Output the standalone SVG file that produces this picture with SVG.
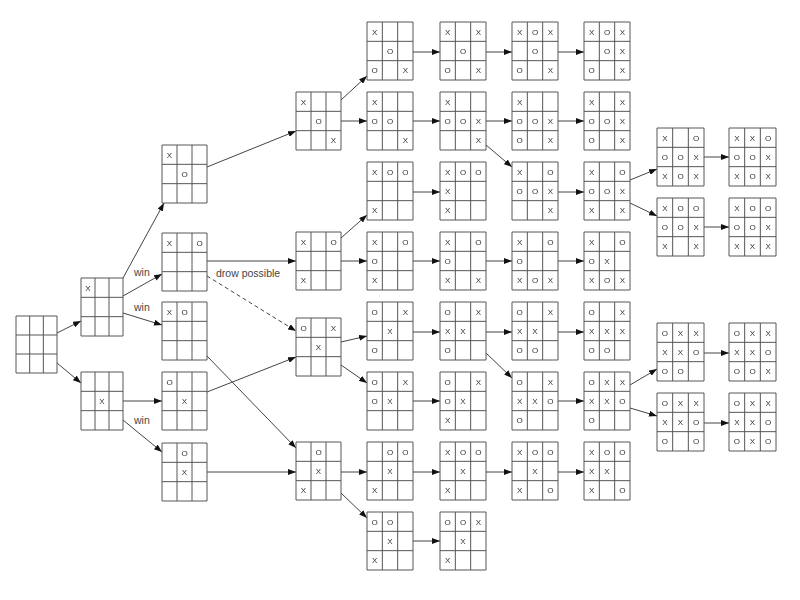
<svg xmlns="http://www.w3.org/2000/svg" xmlns:xlink="http://www.w3.org/1999/xlink" width="800" height="600" viewBox="0 0 800 600">
<style>
.g{fill:#fff;stroke:#555;stroke-width:1}
.b text{font-family:"Liberation Sans",Arial,sans-serif;font-size:8px;text-anchor:middle;fill:#333}
.c line{stroke:#444;stroke-width:1;marker-end:url(#a)}
.c .d{stroke-dasharray:4 3}
.lbl{font-family:"Liberation Sans",Arial,sans-serif;font-size:10.5px;fill:#444}
.b,#labels{opacity:0.99}
</style>
<defs>
<marker id="a" markerWidth="8" markerHeight="6" refX="8" refY="3" orient="auto" markerUnits="userSpaceOnUse"><path d="M0,0 L8,3 L0,6 z" fill="#111"/></marker>
<path id="g41" class="g" d="M0 0H41V57H0Z M13.67 0V57 M27.33 0V57 M0 19H41 M0 38H41"/>
<path id="g42" class="g" d="M0 0H42V58H0Z M14 0V58 M28 0V58 M0 19.33H42 M0 38.67H42"/>
<path id="g45" class="g" d="M0 0H45V58H0Z M15 0V58 M30 0V58 M0 19.33H45 M0 38.67H45"/>
<path id="g46" class="g" d="M0 0H46V58H0Z M15.33 0V58 M30.67 0V58 M0 19.33H46 M0 38.67H46"/>
<path id="g47" class="g" d="M0 0H47V58H0Z M15.67 0V58 M31.33 0V58 M0 19.33H47 M0 38.67H47"/>
</defs>
<rect width="800" height="600" fill="#fff"/>
<g class="c" id="connectors">
<line x1="57" y1="333" x2="81" y2="321"/>
<line x1="57" y1="363" x2="81" y2="383"/>
<line x1="123" y1="278" x2="164" y2="203"/>
<line x1="123" y1="296" x2="162" y2="274"/>
<line x1="123" y1="313" x2="162" y2="325"/>
<line x1="123" y1="401" x2="162" y2="401"/>
<line x1="123" y1="420" x2="162" y2="452"/>
<line x1="207" y1="167" x2="296" y2="131"/>
<line x1="207" y1="261" x2="296" y2="261"/>
<line class="d" x1="207" y1="276" x2="296" y2="331"/>
<line x1="207" y1="356" x2="296" y2="448"/>
<line x1="207" y1="392" x2="296" y2="357"/>
<line x1="207" y1="472" x2="296" y2="472"/>
<line x1="341" y1="100" x2="367" y2="76"/>
<line x1="341" y1="121" x2="367" y2="121"/>
<line x1="341" y1="238" x2="367" y2="215"/>
<line x1="341" y1="261" x2="367" y2="261"/>
<line x1="341" y1="342" x2="367" y2="336"/>
<line x1="341" y1="365" x2="367" y2="383"/>
<line x1="341" y1="472" x2="367" y2="472"/>
<line x1="341" y1="493" x2="367" y2="518"/>
<line x1="413" y1="52" x2="440" y2="52"/>
<line x1="413" y1="121" x2="440" y2="121"/>
<line x1="413" y1="192" x2="440" y2="192"/>
<line x1="413" y1="261" x2="440" y2="261"/>
<line x1="413" y1="332" x2="440" y2="332"/>
<line x1="413" y1="401" x2="440" y2="401"/>
<line x1="413" y1="472" x2="440" y2="472"/>
<line x1="413" y1="541" x2="440" y2="541"/>
<line x1="486" y1="52" x2="512" y2="52"/>
<line x1="486" y1="121" x2="512" y2="121"/>
<line x1="486" y1="145" x2="512" y2="167"/>
<line x1="486" y1="261" x2="512" y2="261"/>
<line x1="486" y1="332" x2="512" y2="332"/>
<line x1="486" y1="353" x2="512" y2="378"/>
<line x1="486" y1="472" x2="512" y2="472"/>
<line x1="558" y1="52" x2="584" y2="52"/>
<line x1="558" y1="121" x2="584" y2="121"/>
<line x1="558" y1="192" x2="584" y2="192"/>
<line x1="558" y1="261" x2="584" y2="261"/>
<line x1="558" y1="332" x2="584" y2="332"/>
<line x1="558" y1="401" x2="584" y2="401"/>
<line x1="558" y1="472" x2="584" y2="472"/>
<line x1="630" y1="180" x2="657" y2="169"/>
<line x1="630" y1="203" x2="657" y2="216"/>
<line x1="630" y1="385" x2="657" y2="369"/>
<line x1="630" y1="408" x2="657" y2="416"/>
<line x1="704" y1="157" x2="729" y2="157"/>
<line x1="704" y1="227" x2="729" y2="227"/>
<line x1="704" y1="353" x2="729" y2="353"/>
<line x1="704" y1="423" x2="729" y2="423"/>
</g>
<g id="labels">
<text class="lbl" x="134" y="276">win</text>
<text class="lbl" x="134" y="311">win</text>
<text class="lbl" x="134" y="424">win</text>
<text class="lbl" x="216" y="277">drow possible</text>
</g>
<g class="b">
<g id="root" transform="translate(16,316)"><use xlink:href="#g41"/></g>
<g id="c1a" transform="translate(81,278)"><use xlink:href="#g42"/><text x="7" y="12.5">X</text></g>
<g id="c1b" transform="translate(81,372)"><use xlink:href="#g42"/><text x="21" y="31.8">X</text></g>
<g id="c2a" transform="translate(162,145)"><use xlink:href="#g45"/><text x="7.5" y="12.5">X</text><text x="22.5" y="31.8">O</text></g>
<g id="c2b" transform="translate(162,233)"><use xlink:href="#g45"/><text x="7.5" y="12.5">X</text><text x="37.5" y="12.5">O</text></g>
<g id="c2c" transform="translate(162,302)"><use xlink:href="#g45"/><text x="7.5" y="12.5">X</text><text x="22.5" y="12.5">O</text></g>
<g id="c2d" transform="translate(162,372)"><use xlink:href="#g45"/><text x="7.5" y="12.5">O</text><text x="22.5" y="31.8">X</text></g>
<g id="c2e" transform="translate(162,443)"><use xlink:href="#g45"/><text x="22.5" y="12.5">O</text><text x="22.5" y="31.8">X</text></g>
<g id="c3a" transform="translate(296,92)"><use xlink:href="#g45"/><text x="7.5" y="12.5">X</text><text x="22.5" y="31.8">O</text><text x="37.5" y="51">X</text></g>
<g id="c3b" transform="translate(296,232)"><use xlink:href="#g45"/><text x="7.5" y="12.5">X</text><text x="37.5" y="12.5">O</text><text x="7.5" y="51">X</text></g>
<g id="c3c" transform="translate(296,318)"><use xlink:href="#g45"/><text x="7.5" y="12.5">O</text><text x="37.5" y="12.5">X</text><text x="22.5" y="31.8">X</text></g>
<g id="c3d" transform="translate(296,442)"><use xlink:href="#g45"/><text x="22.5" y="12.5">O</text><text x="22.5" y="31.8">X</text><text x="7.5" y="51">X</text></g>
<g id="c4r0" transform="translate(367,22)"><use xlink:href="#g46"/><text x="7.7" y="12.5">X</text><text x="23" y="31.8">O</text><text x="7.7" y="51">O</text><text x="38.3" y="51">X</text></g>
<g id="c4r1" transform="translate(367,92)"><use xlink:href="#g46"/><text x="7.7" y="12.5">X</text><text x="7.7" y="31.8">O</text><text x="23" y="31.8">O</text><text x="38.3" y="51">X</text></g>
<g id="c4r2" transform="translate(367,162)"><use xlink:href="#g46"/><text x="7.7" y="12.5">X</text><text x="23" y="12.5">O</text><text x="38.3" y="12.5">O</text><text x="7.7" y="51">X</text></g>
<g id="c4r3" transform="translate(367,232)"><use xlink:href="#g46"/><text x="7.7" y="12.5">X</text><text x="38.3" y="12.5">O</text><text x="7.7" y="31.8">O</text><text x="7.7" y="51">X</text></g>
<g id="c4r4" transform="translate(367,302)"><use xlink:href="#g46"/><text x="7.7" y="12.5">O</text><text x="38.3" y="12.5">X</text><text x="23" y="31.8">X</text><text x="7.7" y="51">O</text></g>
<g id="c4r5" transform="translate(367,372)"><use xlink:href="#g46"/><text x="7.7" y="12.5">O</text><text x="38.3" y="12.5">X</text><text x="7.7" y="31.8">O</text><text x="23" y="31.8">X</text></g>
<g id="c4r6" transform="translate(367,442)"><use xlink:href="#g46"/><text x="23" y="12.5">O</text><text x="38.3" y="12.5">O</text><text x="23" y="31.8">X</text><text x="7.7" y="51">X</text></g>
<g id="c4r7" transform="translate(367,512)"><use xlink:href="#g46"/><text x="7.7" y="12.5">O</text><text x="23" y="12.5">O</text><text x="23" y="31.8">X</text><text x="7.7" y="51">X</text></g>
<g id="c5r0" transform="translate(440,22)"><use xlink:href="#g46"/><text x="7.7" y="12.5">X</text><text x="38.3" y="12.5">X</text><text x="23" y="31.8">O</text><text x="7.7" y="51">O</text><text x="38.3" y="51">X</text></g>
<g id="c5r1" transform="translate(440,92)"><use xlink:href="#g46"/><text x="7.7" y="12.5">X</text><text x="7.7" y="31.8">O</text><text x="23" y="31.8">O</text><text x="38.3" y="31.8">X</text><text x="38.3" y="51">X</text></g>
<g id="c5r2" transform="translate(440,162)"><use xlink:href="#g46"/><text x="7.7" y="12.5">X</text><text x="23" y="12.5">O</text><text x="38.3" y="12.5">O</text><text x="7.7" y="31.8">X</text><text x="7.7" y="51">X</text></g>
<g id="c5r3" transform="translate(440,232)"><use xlink:href="#g46"/><text x="7.7" y="12.5">X</text><text x="38.3" y="12.5">O</text><text x="7.7" y="31.8">O</text><text x="7.7" y="51">X</text><text x="38.3" y="51">X</text></g>
<g id="c5r4" transform="translate(440,302)"><use xlink:href="#g46"/><text x="7.7" y="12.5">O</text><text x="38.3" y="12.5">X</text><text x="7.7" y="31.8">X</text><text x="23" y="31.8">X</text><text x="7.7" y="51">O</text></g>
<g id="c5r5" transform="translate(440,372)"><use xlink:href="#g46"/><text x="7.7" y="12.5">O</text><text x="38.3" y="12.5">X</text><text x="7.7" y="31.8">O</text><text x="23" y="31.8">X</text><text x="7.7" y="51">X</text></g>
<g id="c5r6" transform="translate(440,442)"><use xlink:href="#g46"/><text x="7.7" y="12.5">X</text><text x="23" y="12.5">O</text><text x="38.3" y="12.5">O</text><text x="23" y="31.8">X</text><text x="7.7" y="51">X</text></g>
<g id="c5r7" transform="translate(440,512)"><use xlink:href="#g46"/><text x="7.7" y="12.5">O</text><text x="23" y="12.5">O</text><text x="38.3" y="12.5">X</text><text x="23" y="31.8">X</text><text x="7.7" y="51">X</text></g>
<g id="c6r0" transform="translate(512,22)"><use xlink:href="#g46"/><text x="7.7" y="12.5">X</text><text x="23" y="12.5">O</text><text x="38.3" y="12.5">X</text><text x="23" y="31.8">O</text><text x="7.7" y="51">O</text><text x="38.3" y="51">X</text></g>
<g id="c6r1" transform="translate(512,92)"><use xlink:href="#g46"/><text x="7.7" y="12.5">X</text><text x="7.7" y="31.8">O</text><text x="23" y="31.8">O</text><text x="38.3" y="31.8">X</text><text x="7.7" y="51">O</text><text x="38.3" y="51">X</text></g>
<g id="c6r2" transform="translate(512,162)"><use xlink:href="#g46"/><text x="7.7" y="12.5">X</text><text x="38.3" y="12.5">O</text><text x="7.7" y="31.8">O</text><text x="23" y="31.8">O</text><text x="38.3" y="31.8">X</text><text x="38.3" y="51">X</text></g>
<g id="c6r3" transform="translate(512,232)"><use xlink:href="#g46"/><text x="7.7" y="12.5">X</text><text x="38.3" y="12.5">O</text><text x="7.7" y="31.8">O</text><text x="7.7" y="51">X</text><text x="23" y="51">O</text><text x="38.3" y="51">X</text></g>
<g id="c6r4" transform="translate(512,302)"><use xlink:href="#g46"/><text x="7.7" y="12.5">O</text><text x="38.3" y="12.5">X</text><text x="7.7" y="31.8">X</text><text x="23" y="31.8">X</text><text x="7.7" y="51">O</text><text x="23" y="51">O</text></g>
<g id="c6r5" transform="translate(512,372)"><use xlink:href="#g46"/><text x="7.7" y="12.5">O</text><text x="38.3" y="12.5">X</text><text x="7.7" y="31.8">X</text><text x="23" y="31.8">X</text><text x="38.3" y="31.8">O</text><text x="7.7" y="51">O</text></g>
<g id="c6r6" transform="translate(512,442)"><use xlink:href="#g46"/><text x="7.7" y="12.5">X</text><text x="23" y="12.5">O</text><text x="38.3" y="12.5">O</text><text x="23" y="31.8">X</text><text x="7.7" y="51">X</text><text x="38.3" y="51">O</text></g>
<g id="c7r0" transform="translate(584,22)"><use xlink:href="#g46"/><text x="7.7" y="12.5">X</text><text x="23" y="12.5">O</text><text x="38.3" y="12.5">X</text><text x="23" y="31.8">O</text><text x="38.3" y="31.8">X</text><text x="7.7" y="51">O</text><text x="38.3" y="51">X</text></g>
<g id="c7r1" transform="translate(584,92)"><use xlink:href="#g46"/><text x="7.7" y="12.5">X</text><text x="38.3" y="12.5">X</text><text x="7.7" y="31.8">O</text><text x="23" y="31.8">O</text><text x="38.3" y="31.8">X</text><text x="7.7" y="51">O</text><text x="38.3" y="51">X</text></g>
<g id="c7r2" transform="translate(584,162)"><use xlink:href="#g46"/><text x="7.7" y="12.5">X</text><text x="38.3" y="12.5">O</text><text x="7.7" y="31.8">O</text><text x="23" y="31.8">O</text><text x="38.3" y="31.8">X</text><text x="7.7" y="51">X</text><text x="38.3" y="51">X</text></g>
<g id="c7r3" transform="translate(584,232)"><use xlink:href="#g46"/><text x="7.7" y="12.5">X</text><text x="38.3" y="12.5">O</text><text x="7.7" y="31.8">O</text><text x="23" y="31.8">X</text><text x="7.7" y="51">X</text><text x="23" y="51">O</text><text x="38.3" y="51">X</text></g>
<g id="c7r4" transform="translate(584,302)"><use xlink:href="#g46"/><text x="7.7" y="12.5">O</text><text x="38.3" y="12.5">X</text><text x="7.7" y="31.8">X</text><text x="23" y="31.8">X</text><text x="38.3" y="31.8">X</text><text x="7.7" y="51">O</text><text x="23" y="51">O</text></g>
<g id="c7r5" transform="translate(584,372)"><use xlink:href="#g46"/><text x="7.7" y="12.5">O</text><text x="23" y="12.5">X</text><text x="38.3" y="12.5">X</text><text x="7.7" y="31.8">X</text><text x="23" y="31.8">X</text><text x="38.3" y="31.8">O</text><text x="7.7" y="51">O</text></g>
<g id="c7r6" transform="translate(584,442)"><use xlink:href="#g46"/><text x="7.7" y="12.5">X</text><text x="23" y="12.5">O</text><text x="38.3" y="12.5">O</text><text x="7.7" y="31.8">X</text><text x="23" y="31.8">X</text><text x="7.7" y="51">X</text><text x="38.3" y="51">O</text></g>
<g id="c8a" transform="translate(657,128)"><use xlink:href="#g47"/><text x="7.8" y="12.5">X</text><text x="39.2" y="12.5">O</text><text x="7.8" y="31.8">O</text><text x="23.5" y="31.8">O</text><text x="39.2" y="31.8">X</text><text x="7.8" y="51">X</text><text x="23.5" y="51">O</text><text x="39.2" y="51">X</text></g>
<g id="c8b" transform="translate(657,198)"><use xlink:href="#g47"/><text x="7.8" y="12.5">X</text><text x="23.5" y="12.5">O</text><text x="39.2" y="12.5">O</text><text x="7.8" y="31.8">O</text><text x="23.5" y="31.8">O</text><text x="39.2" y="31.8">X</text><text x="7.8" y="51">X</text><text x="39.2" y="51">X</text></g>
<g id="c8c" transform="translate(657,323)"><use xlink:href="#g47"/><text x="7.8" y="12.5">O</text><text x="23.5" y="12.5">X</text><text x="39.2" y="12.5">X</text><text x="7.8" y="31.8">X</text><text x="23.5" y="31.8">X</text><text x="39.2" y="31.8">O</text><text x="7.8" y="51">O</text><text x="23.5" y="51">O</text></g>
<g id="c8d" transform="translate(657,393)"><use xlink:href="#g47"/><text x="7.8" y="12.5">O</text><text x="23.5" y="12.5">X</text><text x="39.2" y="12.5">X</text><text x="7.8" y="31.8">X</text><text x="23.5" y="31.8">X</text><text x="39.2" y="31.8">O</text><text x="7.8" y="51">O</text><text x="39.2" y="51">O</text></g>
<g id="c9a" transform="translate(729,128)"><use xlink:href="#g47"/><text x="7.8" y="12.5">X</text><text x="23.5" y="12.5">X</text><text x="39.2" y="12.5">O</text><text x="7.8" y="31.8">O</text><text x="23.5" y="31.8">O</text><text x="39.2" y="31.8">X</text><text x="7.8" y="51">X</text><text x="23.5" y="51">O</text><text x="39.2" y="51">X</text></g>
<g id="c9b" transform="translate(729,198)"><use xlink:href="#g47"/><text x="7.8" y="12.5">X</text><text x="23.5" y="12.5">O</text><text x="39.2" y="12.5">O</text><text x="7.8" y="31.8">O</text><text x="23.5" y="31.8">O</text><text x="39.2" y="31.8">X</text><text x="7.8" y="51">X</text><text x="23.5" y="51">X</text><text x="39.2" y="51">X</text></g>
<g id="c9c" transform="translate(729,323)"><use xlink:href="#g47"/><text x="7.8" y="12.5">O</text><text x="23.5" y="12.5">X</text><text x="39.2" y="12.5">X</text><text x="7.8" y="31.8">X</text><text x="23.5" y="31.8">X</text><text x="39.2" y="31.8">O</text><text x="7.8" y="51">O</text><text x="23.5" y="51">O</text><text x="39.2" y="51">X</text></g>
<g id="c9d" transform="translate(729,393)"><use xlink:href="#g47"/><text x="7.8" y="12.5">O</text><text x="23.5" y="12.5">X</text><text x="39.2" y="12.5">X</text><text x="7.8" y="31.8">X</text><text x="23.5" y="31.8">X</text><text x="39.2" y="31.8">O</text><text x="7.8" y="51">O</text><text x="23.5" y="51">X</text><text x="39.2" y="51">O</text></g>
</g>
</svg>
